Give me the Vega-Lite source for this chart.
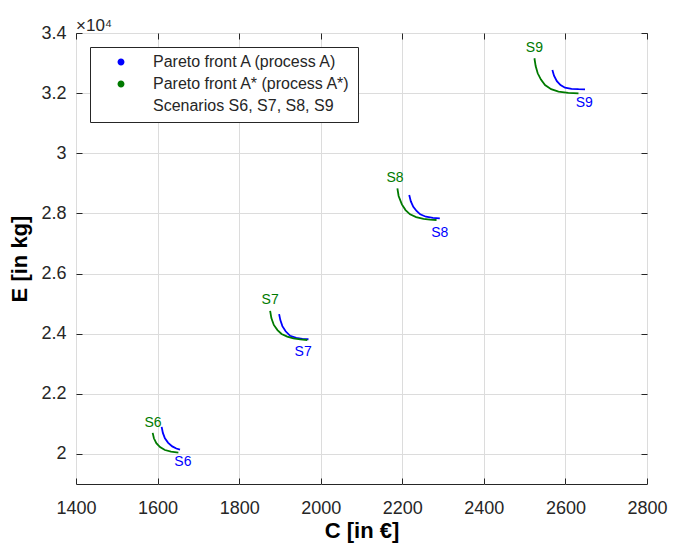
{
  "$schema": "https://vega.github.io/schema/vega-lite/v6.json",
  "width": 571,
  "height": 451,
  "autosize": {"type": "none"},
  "padding": {"left": 76, "top": 33, "right": 37, "bottom": 61},
  "background": "white",
  "title": {"text": "×10⁴", "anchor": "start", "frame": "group", "fontSize": 17, "fontWeight": "normal", "font": "Liberation Sans", "color": "#262626", "offset": -11},
  "config": {
    "view": {"stroke": "#262626", "strokeWidth": 1},
    "axis": {
      "labelFont": "Liberation Sans", "labelFontSize": 18, "labelColor": "#262626", "labelFlush": false,
      "titleFont": "Liberation Sans", "titleFontSize": 22, "titleFontWeight": "bold", "titleColor": "#000000",
      "gridColor": "#dcdcdc", "gridWidth": 1, "domain": false, "tickColor": "#262626", "tickSize": -6
    },
    "legend": {
      "orient": "top-left", "offset": 14, "strokeColor": "#262626", "fillColor": "white",
      "padding": 7, "labelFontSize": 16, "labelFont": "Liberation Sans", "labelColor": "#262626",
      "symbolType": "circle", "symbolSize": 12, "symbolStrokeWidth": 3.5, "rowPadding": 4, "symbolOffset": 16, "labelOffset": 24,
      "labelLimit": 400, "cornerRadius": 0
    }
  },
  "datasets": {
    "curves": [
      {"front": "A-S6", "series": "Pareto front A (process A)", "C": 1610, "E": 20900},
      {"front": "A-S6", "series": "Pareto front A (process A)", "C": 1613, "E": 20700},
      {"front": "A-S6", "series": "Pareto front A (process A)", "C": 1618, "E": 20520},
      {"front": "A-S6", "series": "Pareto front A (process A)", "C": 1626, "E": 20370},
      {"front": "A-S6", "series": "Pareto front A (process A)", "C": 1636, "E": 20250},
      {"front": "A-S6", "series": "Pareto front A (process A)", "C": 1646, "E": 20180},
      {"front": "A-S6", "series": "Pareto front A (process A)", "C": 1655, "E": 20140},
      {"front": "B-S6", "series": "Pareto front A* (process A*)", "C": 1588, "E": 20700},
      {"front": "B-S6", "series": "Pareto front A* (process A*)", "C": 1591, "E": 20520},
      {"front": "B-S6", "series": "Pareto front A* (process A*)", "C": 1597, "E": 20360},
      {"front": "B-S6", "series": "Pareto front A* (process A*)", "C": 1606, "E": 20230},
      {"front": "B-S6", "series": "Pareto front A* (process A*)", "C": 1618, "E": 20130},
      {"front": "B-S6", "series": "Pareto front A* (process A*)", "C": 1633, "E": 20075},
      {"front": "B-S6", "series": "Pareto front A* (process A*)", "C": 1651, "E": 20045},
      {"front": "A-S7", "series": "Pareto front A (process A)", "C": 1898, "E": 24650},
      {"front": "A-S7", "series": "Pareto front A (process A)", "C": 1901, "E": 24450},
      {"front": "A-S7", "series": "Pareto front A (process A)", "C": 1906, "E": 24250},
      {"front": "A-S7", "series": "Pareto front A (process A)", "C": 1914, "E": 24080},
      {"front": "A-S7", "series": "Pareto front A (process A)", "C": 1925, "E": 23930},
      {"front": "A-S7", "series": "Pareto front A (process A)", "C": 1940, "E": 23860},
      {"front": "A-S7", "series": "Pareto front A (process A)", "C": 1955, "E": 23830},
      {"front": "A-S7", "series": "Pareto front A (process A)", "C": 1970, "E": 23815},
      {"front": "B-S7", "series": "Pareto front A* (process A*)", "C": 1876, "E": 24760},
      {"front": "B-S7", "series": "Pareto front A* (process A*)", "C": 1879, "E": 24520},
      {"front": "B-S7", "series": "Pareto front A* (process A*)", "C": 1885, "E": 24290},
      {"front": "B-S7", "series": "Pareto front A* (process A*)", "C": 1894, "E": 24120},
      {"front": "B-S7", "series": "Pareto front A* (process A*)", "C": 1904, "E": 23990},
      {"front": "B-S7", "series": "Pareto front A* (process A*)", "C": 1918, "E": 23900},
      {"front": "B-S7", "series": "Pareto front A* (process A*)", "C": 1933, "E": 23845},
      {"front": "B-S7", "series": "Pareto front A* (process A*)", "C": 1950, "E": 23810},
      {"front": "B-S7", "series": "Pareto front A* (process A*)", "C": 1967, "E": 23790},
      {"front": "A-S8", "series": "Pareto front A (process A)", "C": 2217, "E": 28610},
      {"front": "A-S8", "series": "Pareto front A (process A)", "C": 2221, "E": 28400},
      {"front": "A-S8", "series": "Pareto front A (process A)", "C": 2227, "E": 28220},
      {"front": "A-S8", "series": "Pareto front A (process A)", "C": 2235, "E": 28080},
      {"front": "A-S8", "series": "Pareto front A (process A)", "C": 2244, "E": 27970},
      {"front": "A-S8", "series": "Pareto front A (process A)", "C": 2258, "E": 27890},
      {"front": "A-S8", "series": "Pareto front A (process A)", "C": 2275, "E": 27850},
      {"front": "A-S8", "series": "Pareto front A (process A)", "C": 2292, "E": 27837},
      {"front": "B-S8", "series": "Pareto front A* (process A*)", "C": 2188, "E": 28830},
      {"front": "B-S8", "series": "Pareto front A* (process A*)", "C": 2191, "E": 28580},
      {"front": "B-S8", "series": "Pareto front A* (process A*)", "C": 2199, "E": 28300},
      {"front": "B-S8", "series": "Pareto front A* (process A*)", "C": 2208, "E": 28110},
      {"front": "B-S8", "series": "Pareto front A* (process A*)", "C": 2219, "E": 27970},
      {"front": "B-S8", "series": "Pareto front A* (process A*)", "C": 2234, "E": 27875},
      {"front": "B-S8", "series": "Pareto front A* (process A*)", "C": 2252, "E": 27815},
      {"front": "B-S8", "series": "Pareto front A* (process A*)", "C": 2268, "E": 27793},
      {"front": "B-S8", "series": "Pareto front A* (process A*)", "C": 2284, "E": 27780},
      {"front": "A-S9", "series": "Pareto front A (process A)", "C": 2568, "E": 32770},
      {"front": "A-S9", "series": "Pareto front A (process A)", "C": 2572, "E": 32580},
      {"front": "A-S9", "series": "Pareto front A (process A)", "C": 2579, "E": 32400},
      {"front": "A-S9", "series": "Pareto front A (process A)", "C": 2588, "E": 32270},
      {"front": "A-S9", "series": "Pareto front A (process A)", "C": 2599, "E": 32180},
      {"front": "A-S9", "series": "Pareto front A (process A)", "C": 2615, "E": 32145},
      {"front": "A-S9", "series": "Pareto front A (process A)", "C": 2632, "E": 32132},
      {"front": "A-S9", "series": "Pareto front A (process A)", "C": 2648, "E": 32127},
      {"front": "B-S9", "series": "Pareto front A* (process A*)", "C": 2524, "E": 33160},
      {"front": "B-S9", "series": "Pareto front A* (process A*)", "C": 2527, "E": 32900},
      {"front": "B-S9", "series": "Pareto front A* (process A*)", "C": 2532, "E": 32660},
      {"front": "B-S9", "series": "Pareto front A* (process A*)", "C": 2540, "E": 32450},
      {"front": "B-S9", "series": "Pareto front A* (process A*)", "C": 2550, "E": 32270},
      {"front": "B-S9", "series": "Pareto front A* (process A*)", "C": 2565, "E": 32130},
      {"front": "B-S9", "series": "Pareto front A* (process A*)", "C": 2583, "E": 32048},
      {"front": "B-S9", "series": "Pareto front A* (process A*)", "C": 2607, "E": 32010},
      {"front": "B-S9", "series": "Pareto front A* (process A*)", "C": 2632, "E": 31994}
    ],
    "labels": [
      {"label": "S6", "series": "Pareto front A* (process A*)", "C": 1589, "E": 21030},
      {"label": "S6", "series": "Pareto front A (process A)", "C": 1662, "E": 19730},
      {"label": "S7", "series": "Pareto front A* (process A*)", "C": 1876, "E": 25120},
      {"label": "S7", "series": "Pareto front A (process A)", "C": 1957, "E": 23400},
      {"label": "S8", "series": "Pareto front A* (process A*)", "C": 2182, "E": 29170},
      {"label": "S8", "series": "Pareto front A (process A)", "C": 2292, "E": 27340},
      {"label": "S9", "series": "Pareto front A* (process A*)", "C": 2524, "E": 33490},
      {"label": "S9", "series": "Pareto front A (process A)", "C": 2646, "E": 31660}
    ]
  },
  "resolve": {"axis": {"x": "independent", "y": "independent"}},
  "layer": [
    {
      "data": {"name": "curves"},
      "mark": {"type": "line", "strokeWidth": 1.8, "clip": true},
      "encoding": {
        "x": {"field": "C", "type": "quantitative", "scale": {"domain": [1400, 2800], "nice": false, "zero": false},
              "axis": {"title": "C [in €]", "values": [1400, 1600, 1800, 2000, 2200, 2400, 2600, 2800], "labelPadding": 21, "titlePadding": 3, "format": "d"}},
        "y": {"field": "E", "type": "quantitative", "scale": {"domain": [19000, 34000], "nice": false, "zero": false},
              "axis": {"title": "E [in kg]", "values": [20000, 22000, 24000, 26000, 28000, 30000, 32000, 34000], "labelPadding": 16, "titlePadding": 9, "labelExpr": "format(datum.value/10000, '.1~f')"}},
        "detail": {"field": "front", "type": "nominal"},
        "color": {"field": "series", "type": "nominal",
                  "scale": {"domain": ["Pareto front A (process A)", "Pareto front A* (process A*)", "Scenarios S6, S7, S8, S9"], "range": ["#0000ff", "#007a00", "transparent"]},
                  "legend": {"title": null}}
      }
    },
    {
      "data": {"name": "labels"},
      "mark": {"type": "text", "fontSize": 14, "font": "Liberation Sans", "align": "center", "baseline": "middle"},
      "encoding": {
        "x": {"field": "C", "type": "quantitative",
              "axis": {"orient": "top", "title": null, "labels": false, "grid": false, "values": [1400, 1600, 1800, 2000, 2200, 2400, 2600, 2800]}},
        "y": {"field": "E", "type": "quantitative",
              "axis": {"orient": "right", "title": null, "labels": false, "grid": false, "values": [20000, 22000, 24000, 26000, 28000, 30000, 32000, 34000]}},
        "text": {"field": "label"},
        "color": {"field": "series", "type": "nominal"}
      }
    }
  ]
}
